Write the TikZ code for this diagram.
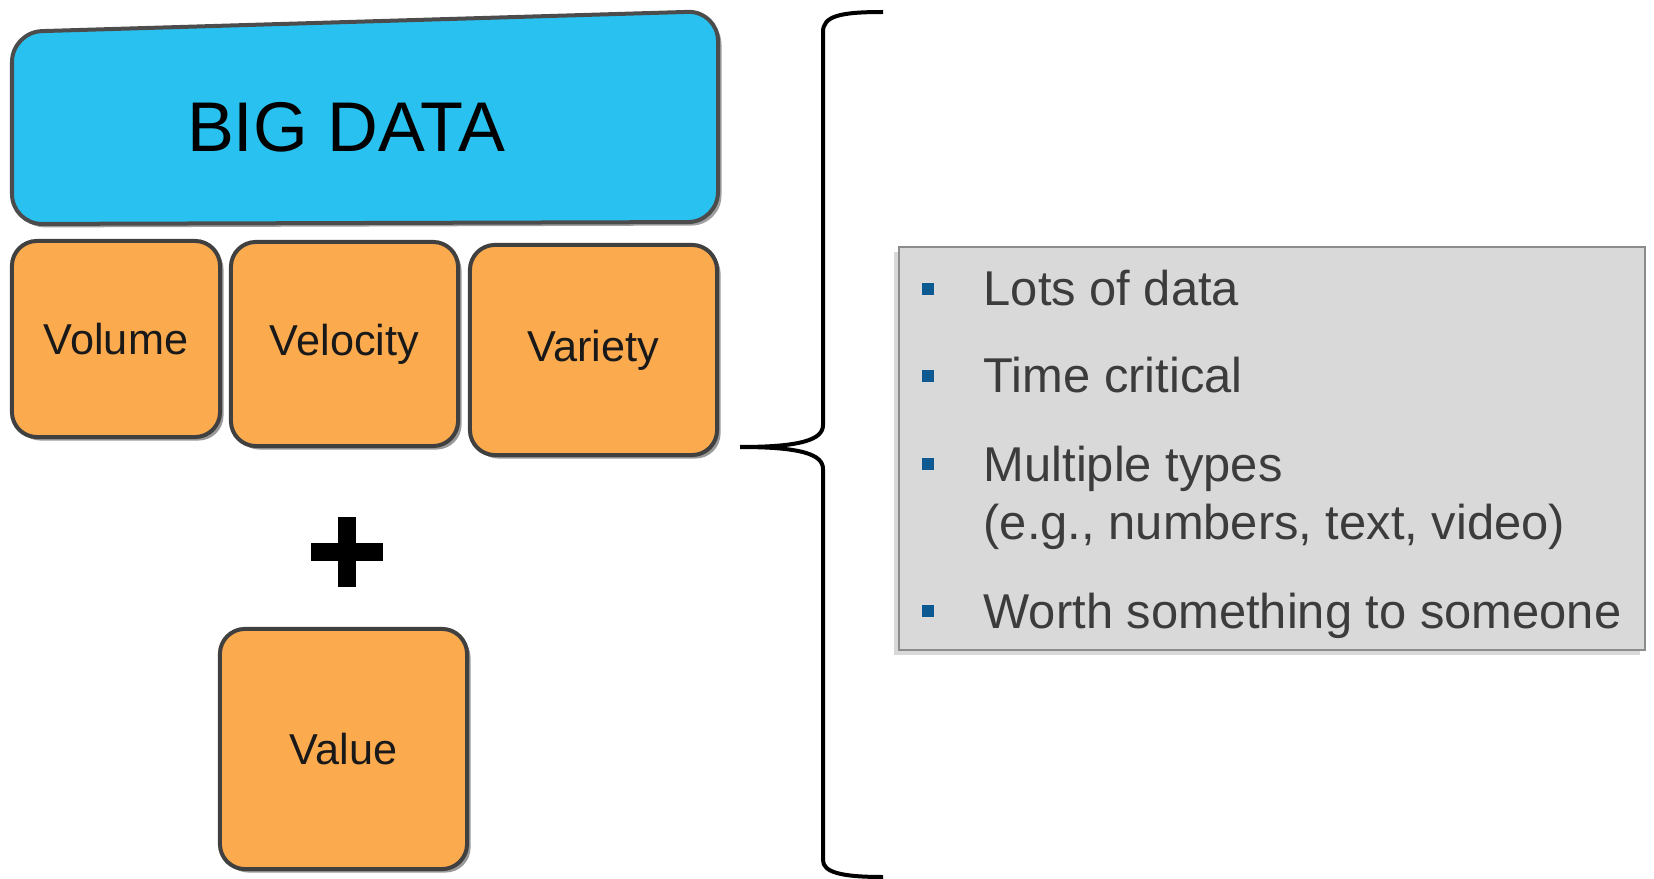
\documentclass[tikz,border=0pt]{standalone}
\usepackage{fontspec}
\setmainfont{Liberation Sans}
\usepackage{xcolor}
\usetikzlibrary{positioning,shadows}

\definecolor{bigblue}{HTML}{29C2F0}
\definecolor{vorange}{HTML}{FBAA4E}
\definecolor{boxgray}{HTML}{D9D9D9}
\definecolor{bulletblue}{HTML}{0D5A92}
\definecolor{textgray}{HTML}{3C3C3C}

\tikzset{
  vbox/.style={draw=black!75, line width=0.04cm, fill=vorange, rounded corners=0.25cm,
    drop shadow={shadow xshift=0.035cm, shadow yshift=-0.035cm, fill=black!80},
    text=black!90, font=\fontsize{12.3}{15}\selectfont, inner sep=0pt},
  bulletsq/.style={fill=bulletblue, minimum size=0.12cm, inner sep=0pt},
  item/.style={text=textgray, font=\fontsize{13.9}{16.5}\selectfont, anchor=base west,
    inner sep=0pt}
}

\begin{document}
\begin{tikzpicture}[x=0.01cm,y=-0.01cm]
\useasboundingbox (0,0) rectangle (1654,879);
% big data banner
\draw[fill=bigblue, draw=black!70, line width=0.04cm, rounded corners=0.3cm,
  drop shadow={shadow xshift=0.035cm, shadow yshift=-0.035cm, fill=black!75}]
  (12,32) -- (718,11) -- (718,222) -- (12,224) -- cycle;
\node (bigdata) at (346,127) {\fontsize{20}{24}\selectfont BIG DATA};

% the three v's
\node[vbox, minimum width=2.08cm, minimum height=1.96cm] (volume) at (116,339) {Volume};
\node[vbox, minimum width=2.27cm, minimum height=2.04cm] (velocity) at (344.5,344) {Velocity};
\node[vbox, minimum width=2.47cm, minimum height=2.10cm] (variety) at (593.5,350) {Variety};

% plus
\coordinate (plus) at (347,552);
\draw[line width=0.18cm] ([xshift=-0.355cm]plus) -- ([xshift=0.355cm]plus);
\draw[line width=0.18cm] ([yshift=0.35cm]plus) -- ([yshift=-0.35cm]plus);

\node[vbox, minimum width=2.47cm, minimum height=2.40cm] (value) at (343.5,749) {Value};

% brace
\coordinate (tip) at (740,447);
\draw[line width=0.04cm] (883,12) .. controls (840,12) and (823,16) .. (823,32)
  -- (823,425) .. controls (823,440) and (800,447) .. (tip)
  .. controls (800,447) and (823,454) .. (823,469)
  -- (823,860) .. controls (823,872) and (840,877) .. (883,877);

% facts box
\node[fill=boxgray, draw=black!45, line width=0.025cm, minimum width=7.46cm, minimum height=4.03cm,
  drop shadow={shadow xshift=-0.05cm, shadow yshift=-0.05cm, fill=black!30}] (facts) at (1272,448.5) {};
\node[item] (lots) at (983,306) {Lots of data};
\node[item] (time) at (983,393) {Time critical};
\node[item] (types) at (983,481) {Multiple types};
\node[item] (eg) at (983,539) {(e.g., numbers, text, video)};
\node[item] (worth) at (983,628) {Worth something to someone};
\foreach \y/\n in {289/1,376/2,464/3,611/4}
  \node[bulletsq] (b\n) at (928,\y) {};
\end{tikzpicture}
\end{document}
